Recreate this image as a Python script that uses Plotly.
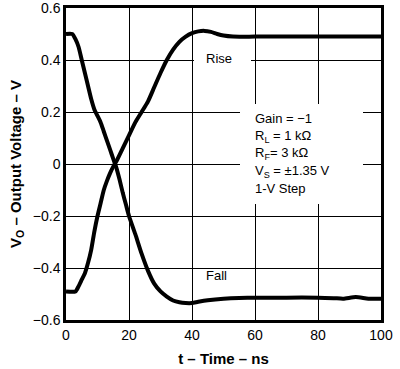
import plotly.graph_objects as go

# Time (ns)
t_fall = [0, 2, 3, 4, 5, 6, 7, 8, 9, 10, 11, 12, 13, 14, 15, 16, 17, 18, 19, 20,
          22, 24, 26, 28, 30, 32, 34, 36, 38, 40, 42, 45, 50, 55, 60, 70, 80, 85, 88, 92, 96, 100]
v_fall = [0.50, 0.50, 0.48, 0.45, 0.40, 0.35, 0.30, 0.25, 0.21, 0.185, 0.16, 0.125, 0.09, 0.055, 0.02, -0.015, -0.06, -0.11, -0.155, -0.20,
          -0.27, -0.345, -0.41, -0.46, -0.49, -0.51, -0.525, -0.532, -0.535, -0.535, -0.53, -0.524, -0.518, -0.515, -0.514, -0.514, -0.514, -0.516, -0.518, -0.512, -0.518, -0.518]

t_rise = [0, 3, 4, 5, 6, 7, 8, 9, 10, 11, 12, 13, 14, 15, 16, 18, 20, 22, 24, 26, 28, 30,
          32, 34, 36, 38, 40, 42, 44, 46, 48, 50, 53, 60, 70, 80, 90, 100]
v_rise = [-0.49, -0.49, -0.47, -0.445, -0.42, -0.38, -0.33, -0.26, -0.20, -0.15, -0.10, -0.065, -0.035, -0.01, 0.01, 0.06, 0.11, 0.16, 0.20, 0.24, 0.295, 0.35,
          0.40, 0.44, 0.47, 0.49, 0.503, 0.51, 0.512, 0.508, 0.50, 0.494, 0.49, 0.49, 0.49, 0.49, 0.49, 0.49]

x_ticks = [0, 20, 40, 60, 80, 100]
y_ticks = [-0.6, -0.4, -0.2, 0, 0.2, 0.4, 0.6]

info_lines = ["Gain = \u22121", "R<sub>L</sub> = 1 k\u03a9", "R<sub>F</sub>= 3 k\u03a9",
              "V<sub>S</sub> = \u00b11.35 V", "1-V Step"]
info_y = [0.174, 0.104, 0.039, -0.030, -0.093]

FONT = "Liberation Sans, Arial, sans-serif"

fig = go.Figure()
fig.add_trace(go.Scatter(x=t_fall, y=v_fall, mode="lines", hoverinfo="skip",
                         line=dict(color="black", width=4, shape="spline", smoothing=0.6)))
fig.add_trace(go.Scatter(x=t_rise, y=v_rise, mode="lines", hoverinfo="skip",
                         line=dict(color="black", width=4, shape="spline", smoothing=0.6)))

# white masks hiding gridlines behind labels
fig.add_annotation(x=49.75, y=0.405, text=" ", showarrow=False, bgcolor="white",
                   width=57, height=22, borderpad=0, borderwidth=0)
fig.add_annotation(x=74.8, y=0.039, text=" ", showarrow=False, bgcolor="white",
                   width=123, height=100, borderpad=0, borderwidth=0)

fig.add_annotation(x=48.6, y=0.406, text="Rise", showarrow=False, font=dict(size=13, color="black", family=FONT))
fig.add_annotation(x=47.8, y=-0.43, text="Fall", showarrow=False, font=dict(size=13, color="black", family=FONT))
for txt, yy in zip(info_lines, info_y):
    fig.add_annotation(x=59.3, y=yy, text=txt, showarrow=False, xanchor="left",
                       font=dict(size=13, color="black", family=FONT))

fig.update_layout(
    width=400, height=369,
    margin=dict(l=66, r=19, t=8, b=49),
    plot_bgcolor="white", paper_bgcolor="white",
    showlegend=False,
    font=dict(family=FONT, color="black", size=13),
)
fig.update_xaxes(range=[0, 100], tickvals=x_ticks, showgrid=True, gridcolor="black", gridwidth=1.4,
                 showline=True, linecolor="black", linewidth=2.5, mirror=True, zeroline=False,
                 ticks="", tickfont=dict(size=14), automargin=False, ticklabeloverflow="allow",
                 title=dict(text="<b>t \u2013 Time \u2013 ns</b>", font=dict(size=15), standoff=12))
fig.update_yaxes(range=[-0.6, 0.6], tickvals=y_ticks, showgrid=True, gridcolor="black", gridwidth=1.4,
                 showline=True, linecolor="black", linewidth=2.5, mirror=True, zeroline=False,
                 ticks="", tickfont=dict(size=14), automargin=False, ticklabeloverflow="allow",
                 title=dict(text="<b>V<sub>O</sub> \u2013 Output Voltage \u2013 V</b>", font=dict(size=15), standoff=8))

fig.write_html("out.html", config={"displayModeBar": False},
               post_script="document.body.style.margin='0px';")
